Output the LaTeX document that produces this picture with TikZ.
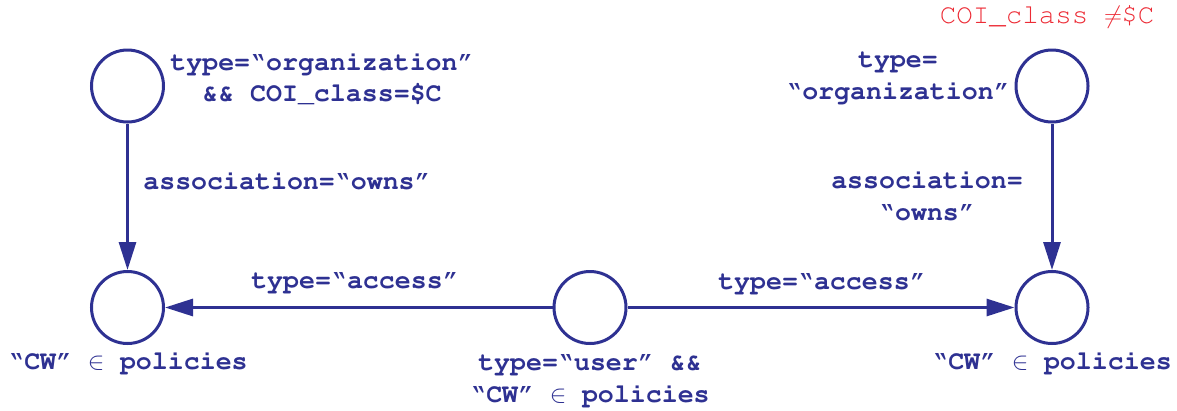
\documentclass[tikz,border=0pt]{standalone}
\usepackage[T1]{fontenc}
\usetikzlibrary{arrows.meta}
\definecolor{navy}{HTML}{2E3192}
\definecolor{redtxt}{HTML}{EC2B35}
\tikzset{
  vert/.style={circle, draw=navy, line width=3pt, minimum size=72pt, inner sep=0pt},
  edge/.style={draw=navy, line width=3pt, -{Triangle[length=28pt,width=17pt]}},
  lbl/.style={text=navy, font=\fontfamily{pcr}\fontseries{b}\fontsize{26.6}{31.5}\selectfont, align=center, inner sep=0pt},
  redlbl/.style={text=redtxt, font=\fontfamily{pcr}\fontseries{m}\fontsize{27.5}{31}\selectfont, inner sep=0pt}
}
\newcommand{\elem}{\makebox[0.6em]{$\in$}}
\newcommand{\oq}{\textquotedblleft}
\newcommand{\cq}{\textquotedblright}
\begin{document}
\begin{tikzpicture}[x=1pt,y=-1pt]
\useasboundingbox (0,0) rectangle (1177,410);
\node[vert] (lt) at (127.5,86) {};
\node[vert] (lb) at (127.5,307.5) {};
\node[vert] (mid) at (590,307.5) {};
\node[vert] (rt) at (1052,86) {};
\node[vert] (rb) at (1052,307.5) {};

\draw[edge] (lt) -- (lb);
\draw[edge] (rt) -- (rb);
\draw[edge] (mid) -- (lb);
\draw[edge] (mid) -- (rb);

\node[lbl] (t1) at (322,79) {type=\oq organization\cq\\\&\& COI\_class=\$C};
\node[lbl] (t2) at (287,181) {association=\oq owns\cq};
\node[lbl] (t3) at (898,78) {type=\\\oq organization\cq};
\node[lbl] (t4) at (927,196) {association=\\\oq owns\cq};
\node[lbl] (t5) at (355,283) {type=\oq access\cq};
\node[lbl] (t6) at (822,284) {type=\oq access\cq};
\node[lbl] (t7) at (128,362) {\oq CW\cq\ \elem\ policies};
\node[lbl] (t8) at (590,381) {type=\oq user\cq\ \&\&\\\oq CW\cq\ \elem\ policies};
\node[lbl] (t9) at (1052,362) {\oq CW\cq\ \elem\ policies};
\node[redlbl] (t10) at (1047,17) {COI\_class \makebox[0.6em]{$\neq$}\$C};
\end{tikzpicture}
\end{document}
